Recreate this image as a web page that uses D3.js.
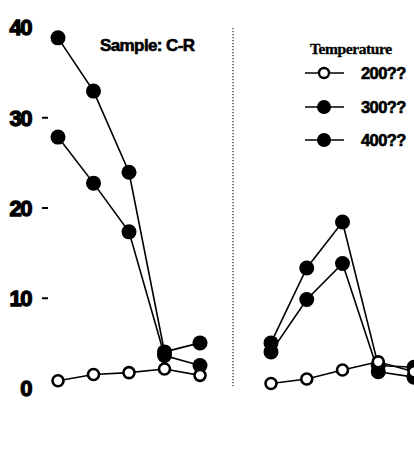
<!DOCTYPE html>
<html><head><meta charset="utf-8">
<script src="https://cdn.jsdelivr.net/npm/d3@7"></script>
<style>html,body{margin:0;padding:0;background:#fff;overflow:hidden}</style>
</head><body>
<svg id="c" width="414" height="473"></svg>
<script>
const steps = ["1","2","3","4","5"];
const left200 = [0.8, 1.5, 1.7, 2.1, 1.4];
const left300 = [38.8, 32.9, 23.9, 4.0, 5.0];
const left400 = [27.8, 22.7, 17.3, 3.6, 2.5];
const right200 = [0.5, 1.0, 2.0, 2.9, 1.8];
const right300 = [5.0, 13.3, 18.4, 2.5, 2.3];
const right400 = [4.0, 9.8, 13.8, 1.8, 1.2];
const yTicks = [0, 10, 20, 30, 40];
const legendLabels = ["200??", "300??", "400??"];
const legendTitle = "Temperature";
const sampleLabel = "Sample: C-R";

const svg = d3.select("#c");
const y = d3.scaleLinear().domain([0, 40]).range([388, 27]);
const xL = d3.scalePoint().domain(steps).range([58, 200]);
const xR = d3.scalePoint().domain(steps).range([271, 414]);

// y axis
const ax = svg.append("g").attr("transform", "translate(48,0)")
  .call(d3.axisLeft(y).tickValues(yTicks).tickSize(6).tickPadding(11).tickFormat(d3.format("d")));
ax.select(".domain").remove();
ax.selectAll(".tick line").attr("stroke", "#000").attr("stroke-width", 2)
  .attr("display", d => (d === 0 || d === 40) ? "none" : null);
ax.selectAll(".tick text").attr("fill", "#000").attr("stroke", "#000").attr("stroke-width", 1.3)
  .style("font-family", "'Liberation Sans', Arial, sans-serif")
  .style("font-weight", "900").style("font-size", "22px").style("letter-spacing", "-1.5px")
  .attr("dy", "0.36em");

// divider
svg.append("line").attr("x1", 233).attr("x2", 233).attr("y1", 28).attr("y2", 386)
  .attr("stroke", "#222").attr("stroke-width", 1.2).attr("stroke-dasharray", "1.2,1.8");

// sample label
svg.append("text").attr("x", 100).attr("y", 51).text(sampleLabel)
  .attr("stroke", "#000").attr("stroke-width", 0.6)
  .style("font-family", "'Liberation Sans', Arial, sans-serif")
  .style("font-weight", "bold").style("font-size", "17px").style("letter-spacing", "-0.6px");

const line = (xs) => d3.line().x((d, i) => xs(steps[i])).y(d => y(d));

function drawSeries(vals, xs, filled) {
  svg.append("path").datum(vals).attr("d", line(xs))
    .attr("fill", "none").attr("stroke", "#000").attr("stroke-width", 1.6);
}
function drawPoints(vals, xs, filled) {
  svg.append("g").selectAll("circle").data(vals).join("circle")
    .attr("cx", (d, i) => xs(steps[i])).attr("cy", d => y(d))
    .attr("r", filled ? 7.5 : 5.5)
    .attr("fill", filled ? "#000" : "#fff")
    .attr("stroke", "#000").attr("stroke-width", filled ? 0 : 2.6);
}
const series = [
  [left300, xL, true], [left400, xL, true], [left200, xL, false],
  [right300, xR, true], [right400, xR, true], [right200, xR, false]
];
series.forEach(s => drawSeries(...s));
series.filter(s => s[2]).forEach(s => drawPoints(...s));
series.filter(s => !s[2]).forEach(s => drawPoints(...s));

// legend
svg.append("text").attr("x", 310).attr("y", 54).text(legendTitle)
  .attr("stroke", "#000").attr("stroke-width", 0.3)
  .style("font-family", "'Liberation Serif', 'Times New Roman', serif")
  .style("font-weight", "bold").style("font-size", "15.5px").style("letter-spacing", "-0.4px");
const legY = [73, 107, 140];
legendLabels.forEach((lab, i) => {
  const g = svg.append("g").attr("transform", `translate(0,${legY[i]})`);
  g.append("line").attr("x1", 305).attr("x2", 344).attr("y1", 0).attr("y2", 0)
    .attr("stroke", "#000").attr("stroke-width", 1.6);
  if (i === 0) {
    g.append("circle").attr("cx", 324).attr("cy", 0).attr("r", 5)
      .attr("fill", "#fff").attr("stroke", "#000").attr("stroke-width", 2.4);
  } else {
    g.append("circle").attr("cx", 324).attr("cy", 0).attr("r", 7).attr("fill", "#000");
  }
  g.append("text").attr("x", 361).attr("y", 0).attr("dy", "0.36em").text(lab)
    .attr("stroke", "#000").attr("stroke-width", 0.6)
    .style("font-family", "'Liberation Sans', Arial, sans-serif")
    .style("font-weight", "bold").style("font-size", "16.5px").style("letter-spacing", "-0.6px");
});
</script>
</body></html>
